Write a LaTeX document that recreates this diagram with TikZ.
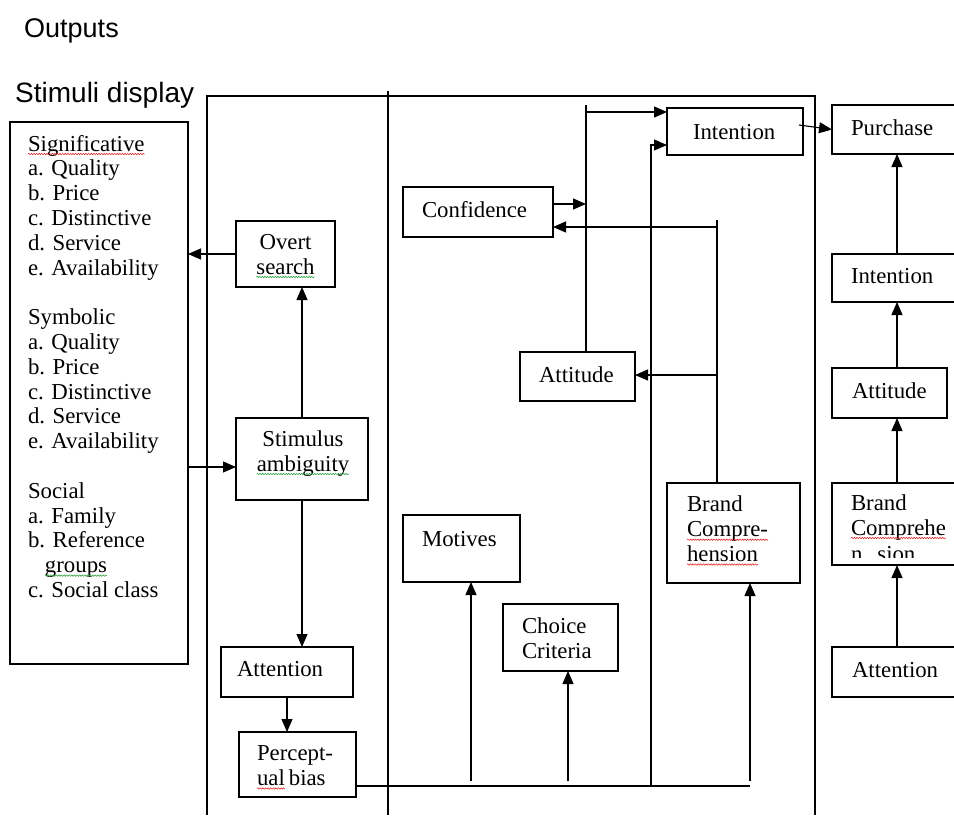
\documentclass[tikz,border=0pt]{standalone}
\usepackage{fontspec}
\setmainfont{Liberation Serif}
\newfontfamily\sansf{Liberation Sans}
\usetikzlibrary{arrows.meta,decorations.pathmorphing}
\definecolor{sqred}{RGB}{225,45,45}
\definecolor{sqgreen}{RGB}{50,165,70}
\newcommand\sq[2]{\tikz[baseline=(w.base)]{\node[inner sep=0pt,outer sep=0pt](w){#2};\draw[overlay,#1,line width=0.6pt,decorate,decoration={snake,amplitude=0.7pt,segment length=2.6pt}]([yshift=-3pt]w.base west)--([yshift=-3pt]w.base east);}}
\newcommand\boxat[5]{\node[box,minimum width=#4pt,minimum height=#5pt] (#1) at (#2,#3) {};}
\tikzset{
 box/.style={draw, line width=1.1pt, inner sep=0pt, outer sep=0pt, anchor=north west},
 txt/.style={inner sep=0pt, outer sep=0pt, font=\fontsize{22.8}{24.8}\selectfont, align=left},
 ctxt/.style={txt, align=center},
 arr/.style={line width=1.1pt, -{Triangle[length=13pt,width=11pt]}},
 ln/.style={line width=1.1pt},
}
\begin{document}
\begin{tikzpicture}[x=1pt,y=-1pt]
\useasboundingbox (0,0) rectangle (954,815);
\clip (0,0) rectangle (954,815);
% titles
\node[inner sep=0pt,anchor=base west,font=\sansf\fontsize{27}{31}\selectfont] (outputs) at (24,37) {Outputs};
\node[inner sep=0pt,anchor=base west,font=\sansf\fontsize{28}{32}\selectfont] (stimdisp) at (15,102) {Stimuli display};
% frame
\draw[ln] (207,815) -- (207,96) -- (815,96) -- (815,815);
\draw[ln] (388,91) -- (388,815);
% boxes
\boxat{stimuli}{10}{122}{178}{542}
\boxat{overt}{236}{221}{99}{66}
\boxat{amb}{236}{418}{132}{82}
\boxat{attL}{221}{647}{132}{50}
\boxat{perc}{239}{732}{117}{65}
\boxat{conf}{403}{187}{150}{50}
\boxat{intM}{667}{108}{136}{47}
\boxat{attM}{520}{352}{115}{49}
\boxat{brandM}{667}{483}{133}{100}
\boxat{motives}{403}{515}{117}{67}
\boxat{choice}{503}{604}{115}{67}
\boxat{purch}{832}{105}{140}{49}
\boxat{intR}{832}{254}{140}{48}
\boxat{attR}{832}{368}{115}{50}
\boxat{brandR}{832}{483}{140}{82}
\boxat{attnR}{832}{647}{140}{50}
% texts (anchor base = baseline of the last line)
\node[txt,anchor=base west] (stimuliT) at (28,597.4) {\sq{sqred}{Significative}\\a. Quality\\b. Price\\c. Distinctive\\d. Service\\e. Availability\\[24.8pt]Symbolic\\a. Quality\\b. Price\\c. Distinctive\\d. Service\\e. Availability\\[24.8pt]Social\\a. Family\\b. Reference\\\hspace*{17pt}\sq{sqgreen}{groups}\\c. Social class};
\node[ctxt,anchor=base] (overtT) at (285.5,274) {Overt\\\sq{sqgreen}{search}};
\node[ctxt,anchor=base] (ambT) at (303,471) {Stimulus\\\sq{sqgreen}{ambiguity}};
\node[txt,anchor=base west] (attLT) at (237,676) {Attention};
\node[txt,anchor=base west] (percT) at (257,785.5) {Percept-\\\sq{sqred}{ual}\hspace{4pt}bias};
\node[txt,anchor=base west] (confT) at (422,217) {Confidence};
\node[txt,anchor=base west] (intMT) at (693,139) {Intention};
\node[txt,anchor=base west] (attMT) at (539,382) {Attitude};
\node[txt,anchor=base west] (brandMT) at (687,561.5) {Brand\\\sq{sqred}{Compre-}\\\sq{sqred}{hension}};
\node[txt,anchor=base west] (motivesT) at (422,546) {Motives};
\node[txt,anchor=base west] (choiceT) at (522,658.5) {Choice\\Criteria};
\node[txt,anchor=base west] (purchT) at (851,135) {Purchase};
\node[txt,anchor=base west] (intRT) at (851,283) {Intention};
\node[txt,anchor=base west] (attRT) at (852,398) {Attitude};
\node[txt,anchor=base west] (brandRT) at (851,535) {Brand\\\sq{sqred}{Comprehe}};
\begin{scope}
\clip (832,483) rectangle (960,557);
\node[txt,anchor=base west] (brandRT3) at (851,561) {n\hspace{15pt}sion};
\end{scope}
\node[txt,anchor=base west] (attnRT) at (852,677) {Attention};
% connectors left part
\draw[arr] (overt.west) -- (overt.west -| stimuli.east);
\coordinate (inA) at ([yshift=-8pt]amb.west);
\draw[arr] (inA -| stimuli.east) -- (inA);
\draw[arr] (amb.north) -- (amb.north |- overt.south);
\draw[arr] (amb.south) -- (amb.south |- attL.north);
\draw[arr] (attL.south) -- (attL.south |- perc.north);
% bottom line from perceptual bias
\coordinate (pb) at ([yshift=-21.5pt]perc.east);
\coordinate (pend) at (750,786);
\draw[ln] (pb) -- (pend);
\coordinate (m1) at (471,781);
\draw[arr] (m1) -- (m1 |- motives.south);
\coordinate (c1) at (568,781);
\draw[arr] (c1) -- (c1 |- choice.south);
\coordinate (b1) at (750,781);
\draw[arr] (b1) -- (b1 |- brandM.south);
\coordinate (v1) at (651,786);
\coordinate (i2) at ([yshift=-13.5pt]intM.west);
\draw[arr] (v1) -- (v1 |- i2) -- (i2);
% attitude/confidence to intention
\coordinate (a1) at (586,105);
\coordinate (i1) at ([yshift=19.5pt]intM.west);
\draw[ln] (attM.north -| a1) -- (a1);
\draw[arr] (a1 |- i1) -- (i1);
\coordinate (cf) at ([yshift=8pt]conf.east);
\draw[arr] (cf) -- (cf -| a1);
% brand comprehension feedback
\coordinate (r1) at (717,220);
\draw[ln] (r1) -- (r1 |- brandM.north);
\coordinate (cfi) at ([yshift=-15pt]conf.east);
\draw[arr] (cfi -| r1) -- (cfi);
\coordinate (at1) at ([yshift=1.5pt]attM.east);
\draw[arr] (at1 -| r1) -- (at1);
% intention to purchase
\draw[arr] ([xshift=-4pt,yshift=6.5pt]intM.east) -- (purch.west);
% right column
\coordinate (rx) at (897,0);
\draw[arr] (attnR.north -| rx) -- (brandR.south -| rx);
\draw[arr] (brandR.north -| rx) -- (attR.south -| rx);
\draw[arr] (attR.north -| rx) -- (intR.south -| rx);
\draw[arr] (intR.north -| rx) -- (purch.south -| rx);
\end{tikzpicture}
\end{document}
